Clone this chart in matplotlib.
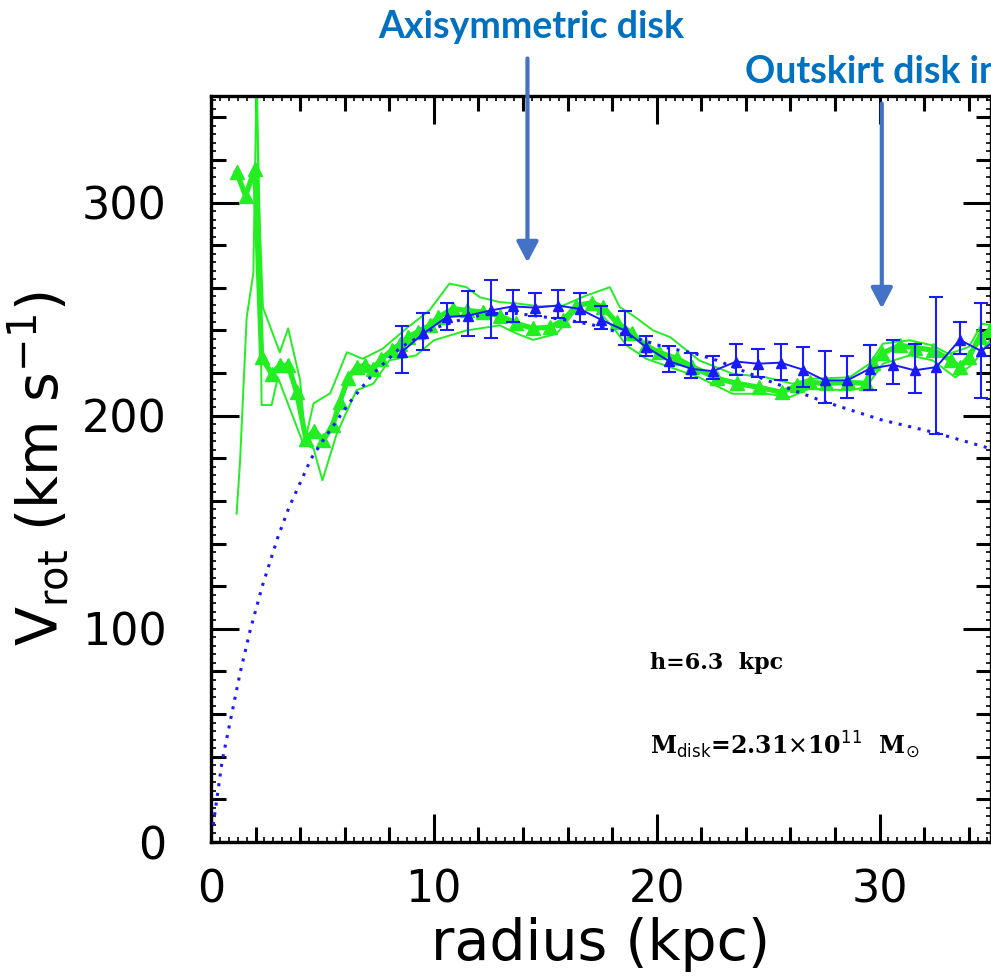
import numpy as np
import matplotlib
matplotlib.use("Agg")
import matplotlib.pyplot as plt

# ---------------- data ----------------
# disk model (blue dotted)
model_r = [0.1, 0.5, 1.3, 1.75, 2.3, 3.0, 3.5, 4.5, 5.0, 6.2, 7.3, 8.5, 10.0, 11.5,
           12.6, 13.7, 15.2, 16.2, 17.4, 18.9, 20.4, 21.6, 22.7, 24.6, 27.4, 30.1,
           32.5, 35.0]
model_v = [8, 38, 79, 99, 120, 143, 157, 180, 188, 206, 220, 232, 241, 246,
           248, 248, 246, 244.5, 242, 237, 232, 229.5, 226, 218, 207, 198,
           192, 184.5]

# blue points with error bars
blue_r = [8.55, 9.53, 10.58, 11.55, 12.55, 13.55, 14.52, 15.57, 16.54, 17.51, 18.56,
          19.53, 20.55, 21.55, 22.52, 23.57, 24.54, 25.56, 26.56, 27.53, 28.55,
          29.55, 30.6, 31.57, 32.54, 33.6, 34.57, 35.6]
blue_v = [229.8, 238.6, 246.3, 247.0, 249.4, 251.3, 250.7, 251.7, 250.1, 245.0, 240.0,
          232.2, 225.6, 222.0, 220.9, 225.4, 224.4, 224.9, 221.6, 216.6, 216.6,
          222.0, 223.9, 221.3, 222.8, 235.6, 230.3, 239.0]
blue_hi = [242.0, 248.0, 253.0, 258.4, 263.5, 259.0, 257.6, 259.0, 257.6, 251.3, 249.0,
           237.2, 232.5, 229.4, 227.8, 233.8, 231.4, 233.8, 232.2, 230.3, 227.8,
           233.0, 235.3, 233.8, 255.7, 243.9, 252.8, 246.0]
blue_lo = [220.0, 231.0, 240.0, 237.2, 236.6, 243.9, 246.6, 246.0, 243.9, 240.8, 233.0,
           227.8, 220.4, 217.8, 217.3, 218.9, 218.1, 216.9, 213.4, 205.9, 208.5,
           211.9, 215.0, 210.7, 191.5, 229.1, 208.5, 232.0]

# green central curve (triangles)
green_r = [1.15, 1.55, 1.97, 2.27, 2.72, 3.09, 3.47, 3.84, 4.26, 4.63, 5.04, 5.46, 5.78,
           6.16, 6.53, 6.93, 7.27, 7.65, 8.1, 8.47, 8.85, 9.3, 9.82, 10.2, 10.87,
           11.47, 12.2, 12.96, 13.7, 14.45, 15.2, 15.8, 16.4, 17.1, 17.6, 18.2, 18.9,
           19.5, 20.1, 20.9, 21.6, 22.7, 23.6, 24.6, 25.6, 26.3, 26.9, 27.6, 28.6,
           29.4, 29.7, 30.1, 30.9, 31.6, 32.4, 33.2, 33.6, 34.0, 34.5, 34.95]
green_v = [314.2, 303.3, 315.7, 227.5, 219.7, 223.6, 223.6, 211.0, 189.2, 193.0, 188.5,
           195.5, 206.4, 217.8, 222.8, 223.6, 222.0, 226.7, 230.6, 233.5, 237.0, 239.5,
           242.4, 246.3, 250.2, 249.4, 248.6, 247.0, 243.3, 241.0, 241.5, 244.7, 251.7,
           253.0, 250.8, 243.8, 238.6, 233.0, 229.7, 226.9, 223.0, 217.5, 215.2, 213.3,
           211.0, 214.2, 215.6, 215.2, 215.6, 215.2, 224.5, 229.2, 233.0, 232.0, 230.7,
           226.0, 222.7, 227.4, 236.8, 240.0]

# green thin envelopes
up_r = [2.0, 2.15, 2.33, 3.09, 3.46, 4.0, 4.23, 4.6, 5.35, 6.1, 6.8, 7.7, 8.75, 9.8,
        10.7, 11.46, 12.06, 12.96, 13.7, 14.75, 15.8, 16.84, 17.9, 18.34, 18.94,
        19.84, 20.6, 21.9, 23.4, 24.9, 26.1, 26.85, 28.65, 29.55, 30.15, 31.35,
        32.37, 33.1, 34.0, 34.6, 35.2]
up_v = [360, 300, 250.8, 229.7, 241.0, 216.6, 188.5, 205.8, 210.5, 229.8, 226.7, 231.4,
        240.8, 249.4, 262.0, 260.3, 255.6, 253.3, 252.7, 251.3, 251.7, 256.4, 260.3,
        251.0, 247.0, 240.0, 236.9, 226.0, 219.7, 218.0, 215.0, 217.3, 218.0, 224.4,
        233.8, 235.4, 233.0, 229.0, 232.2, 243.2, 242.0]
lo_r = [1.15, 1.3, 1.6, 1.9, 2.05, 2.2, 2.27, 2.72, 3.0, 4.14, 4.6, 5.0, 5.64, 6.53,
        7.28, 8.0, 9.2, 10.0, 11.46, 12.96, 13.7, 14.45, 15.5, 16.25, 16.84, 17.44,
        18.04, 18.64, 19.53, 20.6, 21.9, 23.4, 24.9, 26.0, 26.85, 28.65, 29.4,
        30.15, 31.35, 32.37, 33.4, 34.2, 34.95]
lo_v = [154, 178, 246, 267, 360, 280, 205, 205, 218, 186.9, 184.7, 169.7, 191.5, 212.0,
        215.0, 226.0, 228.3, 235.4, 240.0, 242.4, 238.6, 235.6, 238.4, 247.8, 253.2,
        248.5, 241.5, 233.0, 226.7, 222.8, 218.0, 210.3, 210.3, 208.8, 212.7, 211.9,
        213.4, 224.4, 228.3, 226.0, 218.0, 224.4, 235.4]

x_ticks = [0, 10, 20, 30]
y_ticks = [0, 100, 200, 300]
label_h = "h=6.3  kpc"
label_m = r"M$_{\rm disk}$=2.31$\times$10$^{11}$  M$_{\odot}$"
note1 = "Axisymmetric disk"
note2 = "Outskirt disk in"

# ---------------- figure ----------------
W, H = 991, 976
fig = plt.figure(figsize=(W / 100, H / 100), dpi=100)
ax = fig.add_axes([211 / W, (H - 842) / H, (991 - 211) / W, (842 - 96) / H])
ax.set_xlim(0, 35)
ax.set_ylim(0, 350)

green = "#22ee22"
blue = "#1a1aff"

ax.plot(lo_r, lo_v, color=green, lw=1.4, zorder=2)
ax.plot(up_r, up_v, color=green, lw=1.4, zorder=2)
ax.plot(green_r, green_v, color=green, lw=3.8, marker="^", ms=10, mec=green,
        mfc=green, zorder=3)
ax.plot(model_r, model_v, color=blue, lw=2.2, ls=(0, (1, 2.2)), zorder=4)
bv = np.array(blue_v)
yerr = [bv - np.array(blue_lo), np.array(blue_hi) - bv]
ax.errorbar(blue_r, blue_v, yerr=yerr, color=blue, lw=1.4, marker="^", ms=7,
            capsize=5, capthick=1.5, elinewidth=1.5, zorder=5)

# ticks
ax.set_xticks(x_ticks)
ax.set_yticks(y_ticks)
ax.set_xticks(np.arange(0, 36, 2), minor=True)
ax.set_yticks(np.arange(0, 351, 20), minor=True)
ax.tick_params(which="both", direction="in", top=True, right=True, width=2.2,
               labelsize=32)
ax.tick_params(axis="x", which="both", pad=19)
ax.tick_params(axis="y", which="both", pad=32)
ax.tick_params(which="major", length=20.5)
ax.tick_params(which="minor", length=10.5)
for s in ax.spines.values():
    s.set_linewidth(2.4)

# tiny ticks
for loc in ("bottom", "top"):
    sec = ax.secondary_xaxis(loc)
    sec.set_xticks(np.arange(0, 35.01, 0.4))
    sec.tick_params(direction="in", length=3.5, width=1.2, labelbottom=False,
                    labeltop=False)
    sec.spines[loc].set_visible(False)
for loc in ("left", "right"):
    sec = ax.secondary_yaxis(loc)
    sec.set_yticks(np.arange(0, 350.1, 4))
    sec.tick_params(direction="in", length=3.5, width=1.2, labelleft=False,
                    labelright=False)
    sec.spines[loc].set_visible(False)

ax.set_xlabel("radius (kpc)", fontsize=41, labelpad=4)
ax.set_ylabel(r"V$_{\rm rot}$ (km s$^{-1}$)", fontsize=41, labelpad=8)

ax.text(19.7, 84, label_h, fontsize=16, fontfamily="DejaVu Serif",
        fontweight="bold", ha="left", va="center")
ax.text(19.7, 45.5, label_m, fontsize=17, fontfamily="DejaVu Serif",
        fontweight="bold", ha="left", va="center")

# annotations
acol = "#4472C4"
tcol = "#0070C0"
for x0, ytail, ytip in ((14.2, 367.6, 271.9), (30.1, 346.5, 250.3)):
    ax.annotate("", xy=(x0, ytip), xytext=(x0, ytail), annotation_clip=False,
                arrowprops=dict(arrowstyle="-|>,head_width=0.5,head_length=0.95",
                                lw=3, color=acol, mutation_scale=13,
                                shrinkA=0, shrinkB=0))
fig.text(531 / W, 1 - 27 / H, note1, color=tcol, fontsize=27, fontfamily="Lato",
         fontweight="bold", ha="center", va="center")
fig.text(745 / W, 1 - 72 / H, note2, color=tcol, fontsize=27, fontfamily="Lato",
         fontweight="bold", ha="left", va="center")

fig.savefig("out.png", dpi=100)
